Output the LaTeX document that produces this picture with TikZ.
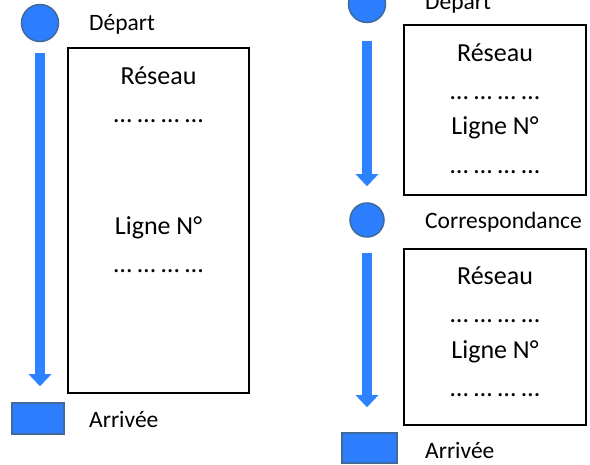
\documentclass[tikz,border=0pt]{standalone}
\usepackage{fontspec}
\setmainfont{Carlito}
\usetikzlibrary{arrows.meta}
\definecolor{stopblue}{RGB}{45,125,255}
\definecolor{stopedge}{RGB}{65,105,155}
\definecolor{lineblue}{RGB}{45,130,255}

\begin{document}
\begin{tikzpicture}[x=1pt,y=-1pt,
  stop/.style={circle,fill=stopblue,draw=stopedge,line width=1.5pt,minimum size=37pt,inner sep=0pt},
  goal/.style={rectangle,fill=stopblue,draw=stopedge,line width=1.5pt,minimum width=52pt,minimum height=31pt,inner sep=0pt},
  lbl/.style={anchor=base west,font=\fontsize{23.5}{28}\selectfont,inner sep=0pt},
  txt/.style={anchor=base,font=\fontsize{26}{31}\selectfont,inner sep=0pt},
  panel/.style={draw,line width=2pt,inner sep=0pt},
  route/.style={draw=lineblue,line width=10pt,-{Triangle[width=22pt,length=12pt]}}]
  \useasboundingbox (0,0) rectangle (590,465);

  % left: one line
  \node[stop] (dep1) at (40,23) {};
  \node[lbl] (dep1t) at (89,31) {Départ};
  \node[panel,minimum width=181pt,minimum height=345pt] (box1) at (158.5,220.5) {};
  \node[txt] (res1) at (158.5,85) {Réseau};
  \node[txt] (dots1) at (158.5,123) {… … … …};
  \node[txt] (lig1) at (158.5,235) {Ligne N°};
  \node[txt] (dots2) at (158.5,273) {… … … …};
  \node[goal] (arr1) at (38,418.5) {};
  \node[lbl] (arr1t) at (89,428) {Arrivée};
  \draw[route,shorten <=11pt,shorten >=16pt] (dep1) -- (dep1 |- arr1.north);

  % right: with a change
  \node[stop] (dep2) at (367,4) {};
  \node[lbl] (dep2t) at (425,10) {Départ};
  \node[panel,minimum width=182pt,minimum height=170pt] (box2) at (495,110) {};
  \node[txt] (res2) at (495,62) {Réseau};
  \node[txt] (dots3) at (495,100) {… … … …};
  \node[txt] (lig2) at (495,135) {Ligne N°};
  \node[txt] (dots4) at (495,174) {… … … …};
  \node[stop,minimum size=34pt] (cor) at (367,220) {};
  \node[lbl] (cort) at (425,229) {Correspondance};
  \draw[route,shorten <=18pt,shorten >=16pt] (dep2) -- (cor);

  \node[panel,minimum width=182pt,minimum height=176pt] (box3) at (495,337) {};
  \node[txt] (res3) at (495,285) {Réseau};
  \node[txt] (dots5) at (495,323) {… … … …};
  \node[txt] (lig3) at (495,359) {Ligne N°};
  \node[txt] (dots6) at (495,397) {… … … …};
  \node[goal,minimum width=55pt,minimum height=30pt] (arr2) at (369.5,448) {};
  \node[lbl] (arr2t) at (425,459) {Arrivée};
  \draw[route,shorten <=15pt,shorten >=25pt] (cor) -- (cor |- arr2.north);
\end{tikzpicture}
\end{document}
